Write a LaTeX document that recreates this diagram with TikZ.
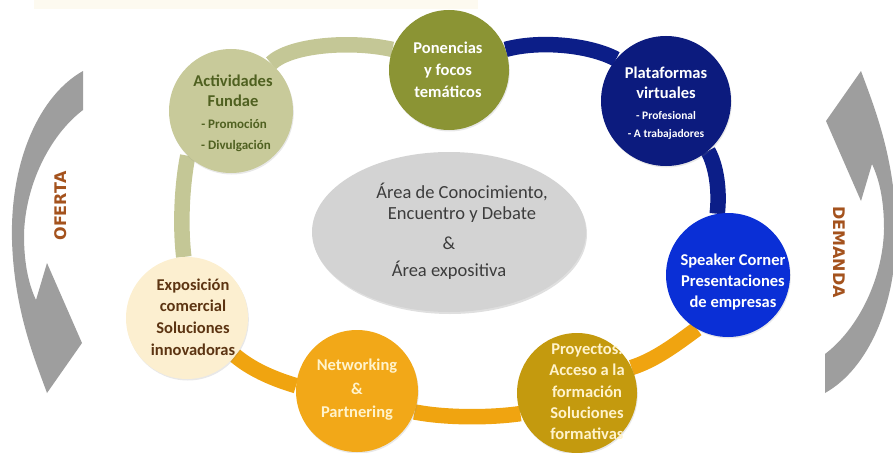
\documentclass[tikz,border=0pt]{standalone}
\usepackage{fontspec}
\setmainfont{Carlito}
\newfontfamily\sidefont{DejaVu Sans}
\usetikzlibrary{shadows,shapes.geometric}
\pgfdeclarelayer{bg}
\pgfsetlayers{bg,main}
\definecolor{actfill}{HTML}{C8CA9A}
\definecolor{acttext}{HTML}{4F6020}
\definecolor{ponfill}{HTML}{8B9434}
\definecolor{plafill}{HTML}{0C1B7E}
\definecolor{spkfill}{HTML}{0A2FD6}
\definecolor{profill}{HTML}{C49A0E}
\definecolor{netfill}{HTML}{F2A818}
\definecolor{expfill}{HTML}{FCEFD0}
\definecolor{exptext}{HTML}{5C3412}
\definecolor{ellfill}{HTML}{D3D3D3}
\definecolor{elltext}{HTML}{3C3C3C}
\definecolor{olivebd}{HTML}{C4C796}
\definecolor{navybd}{HTML}{0C1E88}
\definecolor{orangebd}{HTML}{F0A410}
\definecolor{arrowgray}{HTML}{9E9E9E}
\definecolor{sidetext}{HTML}{A4521D}
\definecolor{paletext}{HTML}{FFF3CC}
\definecolor{topband}{HTML}{FDFAF0}
\newcommand\OfertaShape{(83,71) -- (83,110) .. controls (50,135) and (25,185) .. (24,235) .. controls (24,265) and (29,285) .. (36,300) -- (47,263) -- (82,343) -- (47,393) .. controls (35,360) and (14,310) .. (12,240) .. controls (10,160) and (40,95) .. (83,71) -- cycle}
\begin{document}
\begin{tikzpicture}[x=1pt,y=-1pt,
  circ/.style={circle, inner sep=0pt, minimum size=#1, drop shadow={opacity=0.18, shadow xshift=0.8pt, shadow yshift=-1.5pt}},
  band/.style={line width=15.5pt, line cap=butt},
  bigtxt/.style={font=\bfseries\fontsize{16.5}{#1}\selectfont, align=center, inner sep=0pt},
  smalltxt/.style={font=\bfseries\fontsize{13}{#1}\selectfont, align=center, inner sep=0pt},
  sidetxt/.style={font=\sidefont\bfseries\fontsize{16}{18}\selectfont, text=sidetext, inner sep=0pt}]
\useasboundingbox (0,0) rectangle (893,452);
\begin{pgfonlayer}{bg}
\fill[topband] (34,0) rectangle (478,9);
\end{pgfonlayer}

% side arrows
\fill[arrowgray] \OfertaShape;
\begin{scope}[rotate around={180:(454,232)}]
\fill[arrowgray] \OfertaShape;
\end{scope}
\node[sidetxt, rotate=90] (oferta) at (61,206) {OFERTA};
\node[sidetxt, rotate=-90] (demanda) at (839,252) {DEMANDA};

% centre ellipse
\node[ellipse, fill=ellfill, minimum width=274pt, minimum height=160pt, inner sep=0pt,
  drop shadow={opacity=0.25, shadow xshift=1pt, shadow yshift=-2pt}] (centro) at (449,232) {};
\node[font=\fontsize{18.5}{20.5}\selectfont, text=elltext, align=center, inner sep=0pt] (centroA) at (462,203) {Área de Conocimiento,\\Encuentro y Debate};
\node[font=\fontsize{18.5}{27}\selectfont, text=elltext, align=center, inner sep=0pt] (centroB) at (449,258) {\&\\Área expositiva};

% circles
\node[circ=124pt, fill=actfill] (act) at (231,111) {};
\node[circ=120pt, fill=ponfill] (pon) at (449,70) {};
\node[circ=130pt, fill=plafill] (pla) at (666,101) {};
\node[circ=124pt, fill=spkfill] (spk) at (728,275) {};
\node[circ=120pt, fill=profill] (pro) at (577,393) {};
\node[circ=122pt, fill=netfill] (net) at (357,391) {};
\node[circ=122pt, fill=expfill] (exp) at (187,318) {};

% ring bands
\begin{pgfonlayer}{bg}
\draw[band, olivebd] (exp.93) .. controls (180,225) and (182,185) .. (act.226);
\draw[band, olivebd] (act.50) .. controls (290,45) and (350,40) .. (pon.160);
\draw[band, navybd] (pon.20) .. controls (540,40) and (590,45) .. (pla.140);
\draw[band, navybd] (pla.-50) .. controls (716,165) and (720,190) .. (spk.100);
\draw[band, orangebd] (spk.240) .. controls (675,345) and (655,360) .. (pro.25);
\draw[band, orangebd] (pro.200) .. controls (490,418) and (445,418) .. (net.-20);
\draw[band, orangebd] (net.175) .. controls (270,378) and (250,368) .. (exp.-38);
\end{pgfonlayer}

% texts
\node[bigtxt=20, text=acttext] (actT) at (233,91) {Actividades\\Fundae};
\node[smalltxt=21, text=acttext] (actS) at (234,136) {- Promoción\\\hspace*{4pt}- Divulgación};
\node[bigtxt=22, text=white] (ponT) at (448,70) {Ponencias\\y focos\\temáticos};
\node[bigtxt=20, text=white] (plaT) at (666,83) {Plataformas\\virtuales};
\node[font=\bfseries\fontsize{11.5}{18}\selectfont, align=center, inner sep=0pt, text=white] (plaS) at (666,125) {- Profesional\\- A trabajadores};
\node[bigtxt=21, text=white] (spkT) at (733,282) {Speaker Corner\\Presentaciones\\de empresas};
\node[bigtxt=21.3, text=paletext] (proT) at (587,392) {Proyectos.\\Acceso a la\\formación\\Soluciones\\formativas};
\node[bigtxt=23.5, text=paletext] (netT) at (357,390) {Networking\\\&\\Partnering};
\node[bigtxt=21.7, text=exptext] (expT) at (193,317) {Exposición\\comercial\\Soluciones\\innovadoras};
\end{tikzpicture}
\end{document}
